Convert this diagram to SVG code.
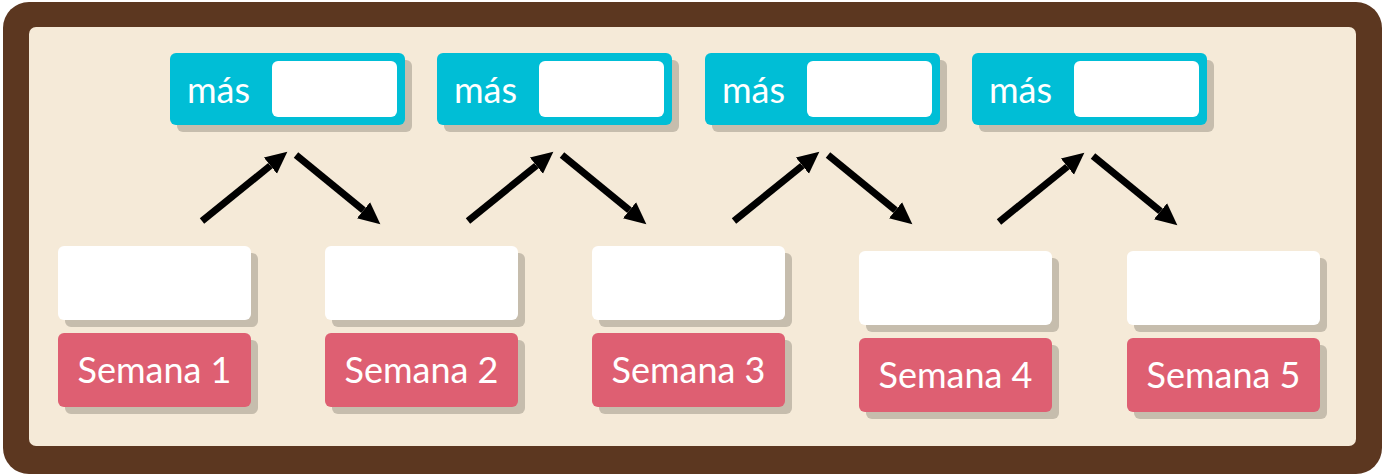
<svg xmlns="http://www.w3.org/2000/svg" width="1382" height="476" viewBox="0 0 1382 476">
<style>
.sh{fill:#c6bdad}
.wb{fill:#ffffff}
.cy{fill:#00bed6}
.pk{fill:#de5f72}
.t{font-family:Lato,"Open Sans",sans-serif;font-size:36px;fill:#ffffff}
.ar{stroke:#000;stroke-width:7;fill:none;marker-end:url(#ah)}
</style>
<defs>
<marker id="ah" markerUnits="userSpaceOnUse" markerWidth="24" markerHeight="24" viewBox="0 -10 22 20" refX="0" refY="0" orient="auto">
<path d="M0,-9.5 L20,0 L0,9.5 z" fill="#000"/>
</marker>
</defs>
<rect x="3" y="2" width="1379" height="472" rx="26" fill="#5c3720"/>
<rect x="29" y="27" width="1327" height="419" rx="7" fill="#f5ead8"/>

<g id="mas1">
<rect class="sh" x="177" y="60" width="235" height="72" rx="6"/>
<rect class="cy" x="170" y="53" width="235" height="72" rx="6"/>
<rect class="wb" x="272" y="61" width="125" height="56" rx="6"/>
<text class="t" x="187" y="103">más</text>
</g>
<g id="mas2">
<rect class="sh" x="444" y="60" width="235" height="72" rx="6"/>
<rect class="cy" x="437" y="53" width="235" height="72" rx="6"/>
<rect class="wb" x="539" y="61" width="125" height="56" rx="6"/>
<text class="t" x="454" y="103">más</text>
</g>
<g id="mas3">
<rect class="sh" x="712" y="60" width="235" height="72" rx="6"/>
<rect class="cy" x="705" y="53" width="235" height="72" rx="6"/>
<rect class="wb" x="807" y="61" width="125" height="56" rx="6"/>
<text class="t" x="722" y="103">más</text>
</g>
<g id="mas4">
<rect class="sh" x="979" y="60" width="235" height="72" rx="6"/>
<rect class="cy" x="972" y="53" width="235" height="72" rx="6"/>
<rect class="wb" x="1074" y="61" width="125" height="56" rx="6"/>
<text class="t" x="989" y="103">más</text>
</g>

<g id="semana1">
<rect class="sh" x="65" y="253" width="193" height="74" rx="6"/>
<rect class="wb" x="58" y="246" width="193" height="74" rx="6"/>
<rect class="sh" x="65" y="340" width="193" height="74" rx="6"/>
<rect class="pk" x="58" y="333" width="193" height="74" rx="6"/>
<text class="t" x="154.5" y="383" text-anchor="middle">Semana 1</text>
</g>
<g id="semana2">
<rect class="sh" x="332" y="253" width="193" height="74" rx="6"/>
<rect class="wb" x="325" y="246" width="193" height="74" rx="6"/>
<rect class="sh" x="332" y="340" width="193" height="74" rx="6"/>
<rect class="pk" x="325" y="333" width="193" height="74" rx="6"/>
<text class="t" x="421.5" y="383" text-anchor="middle">Semana 2</text>
</g>
<g id="semana3">
<rect class="sh" x="599" y="253" width="193" height="74" rx="6"/>
<rect class="wb" x="592" y="246" width="193" height="74" rx="6"/>
<rect class="sh" x="599" y="340" width="193" height="74" rx="6"/>
<rect class="pk" x="592" y="333" width="193" height="74" rx="6"/>
<text class="t" x="688.5" y="383" text-anchor="middle">Semana 3</text>
</g>
<g id="semana4">
<rect class="sh" x="866" y="258" width="193" height="74" rx="6"/>
<rect class="wb" x="859" y="251" width="193" height="74" rx="6"/>
<rect class="sh" x="866" y="345" width="193" height="74" rx="6"/>
<rect class="pk" x="859" y="338" width="193" height="74" rx="6"/>
<text class="t" x="955.5" y="388" text-anchor="middle">Semana 4</text>
</g>
<g id="semana5">
<rect class="sh" x="1134" y="258" width="193" height="74" rx="6"/>
<rect class="wb" x="1127" y="251" width="193" height="74" rx="6"/>
<rect class="sh" x="1134" y="345" width="193" height="74" rx="6"/>
<rect class="pk" x="1127" y="338" width="193" height="74" rx="6"/>
<text class="t" x="1223.5" y="388" text-anchor="middle">Semana 5</text>
</g>

<g id="connectors">
<line class="ar" x1="202" y1="221" x2="270.4" y2="165.6"/>
<line class="ar" x1="296" y1="155" x2="363.5" y2="210.3"/>
<line class="ar" x1="468" y1="221" x2="536.4" y2="165.6"/>
<line class="ar" x1="562" y1="155" x2="629.5" y2="210.3"/>
<line class="ar" x1="734" y1="221" x2="802.4" y2="165.6"/>
<line class="ar" x1="828" y1="155" x2="895.5" y2="210.3"/>
<line class="ar" x1="999" y1="222" x2="1067.4" y2="166.6"/>
<line class="ar" x1="1093" y1="156" x2="1160.5" y2="211.3"/>
</g>
</svg>
